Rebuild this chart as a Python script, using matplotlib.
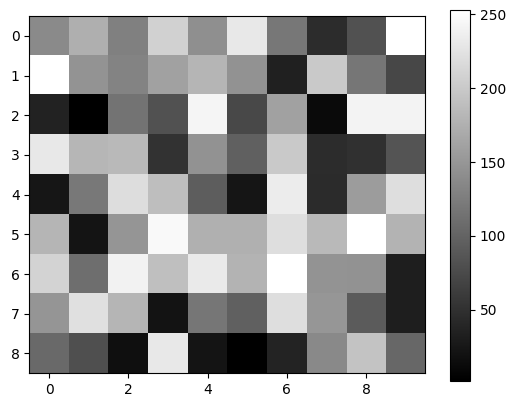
import numpy as np
import matplotlib
matplotlib.use("Agg")
import matplotlib.pyplot as plt

# grayscale values per row
row0 = [138, 174, 128, 207, 143, 230, 119, 46, 82, 253]
row1 = [253, 148, 131, 160, 180, 146, 34, 200, 118, 72]
row2 = [36, 2, 115, 82, 243, 73, 160, 12, 242, 242]
row3 = [230, 181, 184, 52, 146, 97, 200, 46, 51, 85]
row4 = [24, 120, 219, 189, 94, 23, 234, 45, 155, 220]
row5 = [180, 22, 149, 247, 175, 175, 220, 184, 253, 178]
row6 = [210, 110, 240, 190, 232, 178, 253, 147, 146, 32]
row7 = [149, 222, 180, 21, 118, 97, 220, 150, 92, 32]
row8 = [105, 80, 17, 230, 22, 2, 37, 137, 195, 103]

data = np.array([row0, row1, row2, row3, row4, row5, row6, row7, row8])

fig = plt.figure(figsize=(5.14, 4.07), dpi=100)
ax = fig.add_axes([0.0570, 0.0828, 0.7708, 0.8779])
cax = fig.add_axes([0.8761, 0.0646, 0.0383, 0.9108])

im = ax.imshow(data, cmap='gray', aspect='auto')
fig.colorbar(im, cax=cax)

plt.savefig("out.png", dpi=100)
